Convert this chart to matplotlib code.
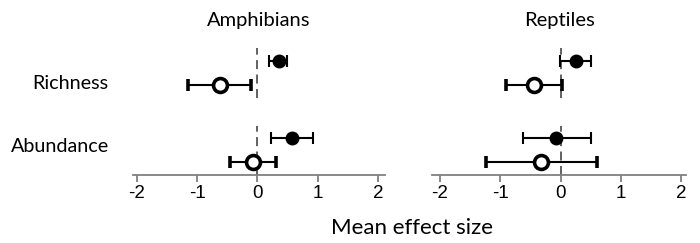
import numpy as np
import matplotlib
matplotlib.use('Agg')
import matplotlib.pyplot as plt

plt.rcParams['font.family'] = ['Lato', 'DejaVu Sans']

# данные: среднее и границы доверительного интервала
groups = ['Richness', 'Abundance']
taxa = ['Amphibians', 'Reptiles']

# закрашенные кружки (по группам Richness, Abundance)
filled_mean = {'Amphibians': [0.35, 0.57], 'Reptiles': [0.25, -0.07]}
filled_lo = {'Amphibians': [0.19, 0.23], 'Reptiles': [-0.01, -0.63]}
filled_hi = {'Amphibians': [0.49, 0.92], 'Reptiles': [0.51, 0.50]}

# пустые кружки
open_mean = {'Amphibians': [-0.63, -0.07], 'Reptiles': [-0.44, -0.32]}
open_lo = {'Amphibians': [-1.15, -0.46], 'Reptiles': [-0.90, -1.24]}
open_hi = {'Amphibians': [-0.11, 0.30], 'Reptiles': [0.03, 0.61]}

xticks = [-2, -1, 0, 1, 2]
xticklabels = ['-2', '-1', '0', '1', '2']

centers = np.array([1.0, 0.0])
off = 0.155

fig = plt.figure(figsize=(7, 2.43), dpi=100)
boxes = [[133 / 700, 0.28, 252 / 700, 0.535], [432 / 700, 0.28, 254 / 700, 0.535]]
xlims = [(-2.066, 2.116), (-2.133, 2.083)]

for k, name in enumerate(taxa):
    ax = fig.add_axes(boxes[k])
    for c in centers:
        ax.plot([0, 0], [c - 0.32, c + 0.32], color='#555555', lw=1.3,
                dashes=(5, 3))
    fm = np.array(filled_mean[name])
    ax.errorbar(fm, centers + off,
                xerr=[fm - np.array(filled_lo[name]), np.array(filled_hi[name]) - fm],
                fmt='o', color='black', ms=9, lw=1.5, capsize=4, capthick=1.5)
    om = np.array(open_mean[name])
    ax.errorbar(om, centers - off,
                xerr=[om - np.array(open_lo[name]), np.array(open_hi[name]) - om],
                fmt='o', color='black', mfc='white', mec='black', mew=2.6,
                ms=10, lw=1.5, capsize=4, capthick=1.5)
    ax.set_xlim(xlims[k])
    ax.set_ylim(-0.316, 1.361)
    for s in ['top', 'right', 'left']:
        ax.spines[s].set_visible(False)
    ax.spines['bottom'].set_color('#808080')
    ax.spines['bottom'].set_linewidth(1.3)
    ax.set_xticks(xticks)
    ax.set_xticklabels(xticklabels, family='Liberation Sans', fontsize=13.5)
    ax.tick_params(axis='x', colors='#808080', length=5, width=1.3,
                   labelcolor='black', pad=2)
    ax.text(0.5, 1.19, name, transform=ax.transAxes, ha='center', va='center',
            fontsize=14.5)
    if k == 0:
        ax.set_yticks([0.884, 0.071])
        ax.set_yticklabels(groups, fontsize=14.2)
        ax.tick_params(axis='y', left=False, pad=14)
    else:
        ax.set_yticks([])

fig.text(412 / 700, 1 - 228 / 243, 'Mean effect size', ha='center', va='center',
         fontsize=16)

fig.savefig('out.png', dpi=100)
